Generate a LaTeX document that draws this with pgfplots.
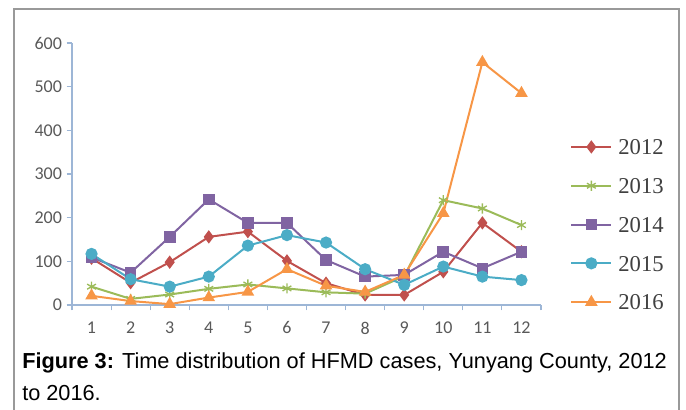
\documentclass[border=0pt]{standalone}
\usepackage{fontspec}
\setmainfont{Liberation Serif}
\newfontfamily\capfont{Liberation Sans}
\newfontfamily\tickfont{Carlito}
\usepackage{pgfplots}
\pgfplotsset{compat=1.18}
\definecolor{c12}{HTML}{C0504D}
\definecolor{c13}{HTML}{9BBB59}
\definecolor{c14}{HTML}{8064A2}
\definecolor{c15}{HTML}{4BACC6}
\definecolor{c16}{HTML}{F79646}
\definecolor{axc}{HTML}{9DB6D6}
\definecolor{tickgray}{HTML}{595959}
\definecolor{legtext}{HTML}{404040}
\definecolor{framec}{HTML}{999999}
\begin{document}
\begin{tikzpicture}
\useasboundingbox (0,0) rectangle (514.5pt,307.5pt);
\draw[framec, line width=1pt] (10.5pt,0) -- (10.5pt,300.75pt) -- (509.25pt,300.75pt) -- (509.25pt,0);
\begin{axis}[
  at={(54pt,78.75pt)}, anchor=south west,
  scale only axis, width=351.75pt, height=196.5pt,
  xmin=0.5, xmax=12.5, ymin=0, ymax=600,
  axis x line*=bottom, axis y line*=left,
  axis line style={draw=axc, line width=0.8pt},
  xtick={1,...,12}, minor xtick={0.5,1.5,...,12.5},
  ytick={0,100,...,600},
  tick align=outside,
  major tick length=4pt, minor tick length=4pt,
  major x tick style={draw=none},
  every tick/.style={draw=axc, line width=0.8pt},
  minor x tick style={draw=axc, line width=0.8pt},
  /pgf/number format/assume math mode=true,
  ticklabel style={font=\tickfont\fontsize{13.5}{14}\selectfont, text=tickgray},
  xticklabel style={yshift=-5pt},
  legend style={at={(1.062,0.307)}, anchor=west, draw=none, fill=none,
    font=\fontsize{17}{20}\selectfont, text=legtext, row sep=17.6pt, inner sep=0pt,
    nodes={inner sep=0pt, text height=11.5pt, text depth=0pt},
    /tikz/every odd column/.append style={column sep=4.5pt}},
  legend cell align=left,
  legend image code/.code={\draw[mark repeat=2,mark phase=2] plot coordinates {(0pt,0pt) (15pt,0pt) (30pt,0pt)};},
]
\addplot[color=c12, line width=1.5pt, mark=diamond*, mark size=3.8pt, mark options={fill=c12, solid}]
coordinates {(1,107) (2,51) (3,98) (4,156) (5,168) (6,101) (7,50) (8,23) (9,23) (10,76) (11,188) (12,122)};
\addlegendentry{2012}
\addplot[color=c13, line width=1.5pt, mark=asterisk, mark size=3.8pt, mark options={solid, line width=1pt}]
coordinates {(1,42) (2,14) (3,24) (4,37) (5,47) (6,38) (7,29) (8,26) (9,66) (10,240) (11,221) (12,183)};
\addlegendentry{2013}
\addplot[color=c14, line width=1.5pt, mark=square*, mark size=3.6pt, mark options={fill=c14, solid}]
coordinates {(1,109) (2,74) (3,156) (4,242) (5,188) (6,188) (7,103) (8,65) (9,69) (10,122) (11,84) (12,122)};
\addlegendentry{2014}
\addplot[color=c15, line width=1.5pt, mark=*, mark size=3.8pt, mark options={fill=c15, solid}]
coordinates {(1,117) (2,59) (3,42) (4,65) (5,136) (6,160) (7,143) (8,82) (9,46) (10,88) (11,65) (12,57)};
\addlegendentry{2015}
\addplot[color=c16, line width=1.5pt, mark=triangle*, mark size=4pt, mark options={fill=c16, solid}]
coordinates {(1,21) (2,9) (3,2) (4,17) (5,30) (6,82) (7,44) (8,30) (9,69) (10,210) (11,556) (12,485)};
\addlegendentry{2016}
\end{axis}
\node[anchor=base west, inner sep=0pt, font=\capfont\fontsize{16.3}{20}\selectfont] at (16.5pt,30.75pt) {\textbf{Figure 3:} Time distribution of HFMD cases, Yunyang County, 2012};
\node[anchor=base west, inner sep=0pt, font=\capfont\fontsize{16.3}{20}\selectfont] at (16.5pt,6.75pt) {to 2016.};
\end{tikzpicture}
\end{document}
